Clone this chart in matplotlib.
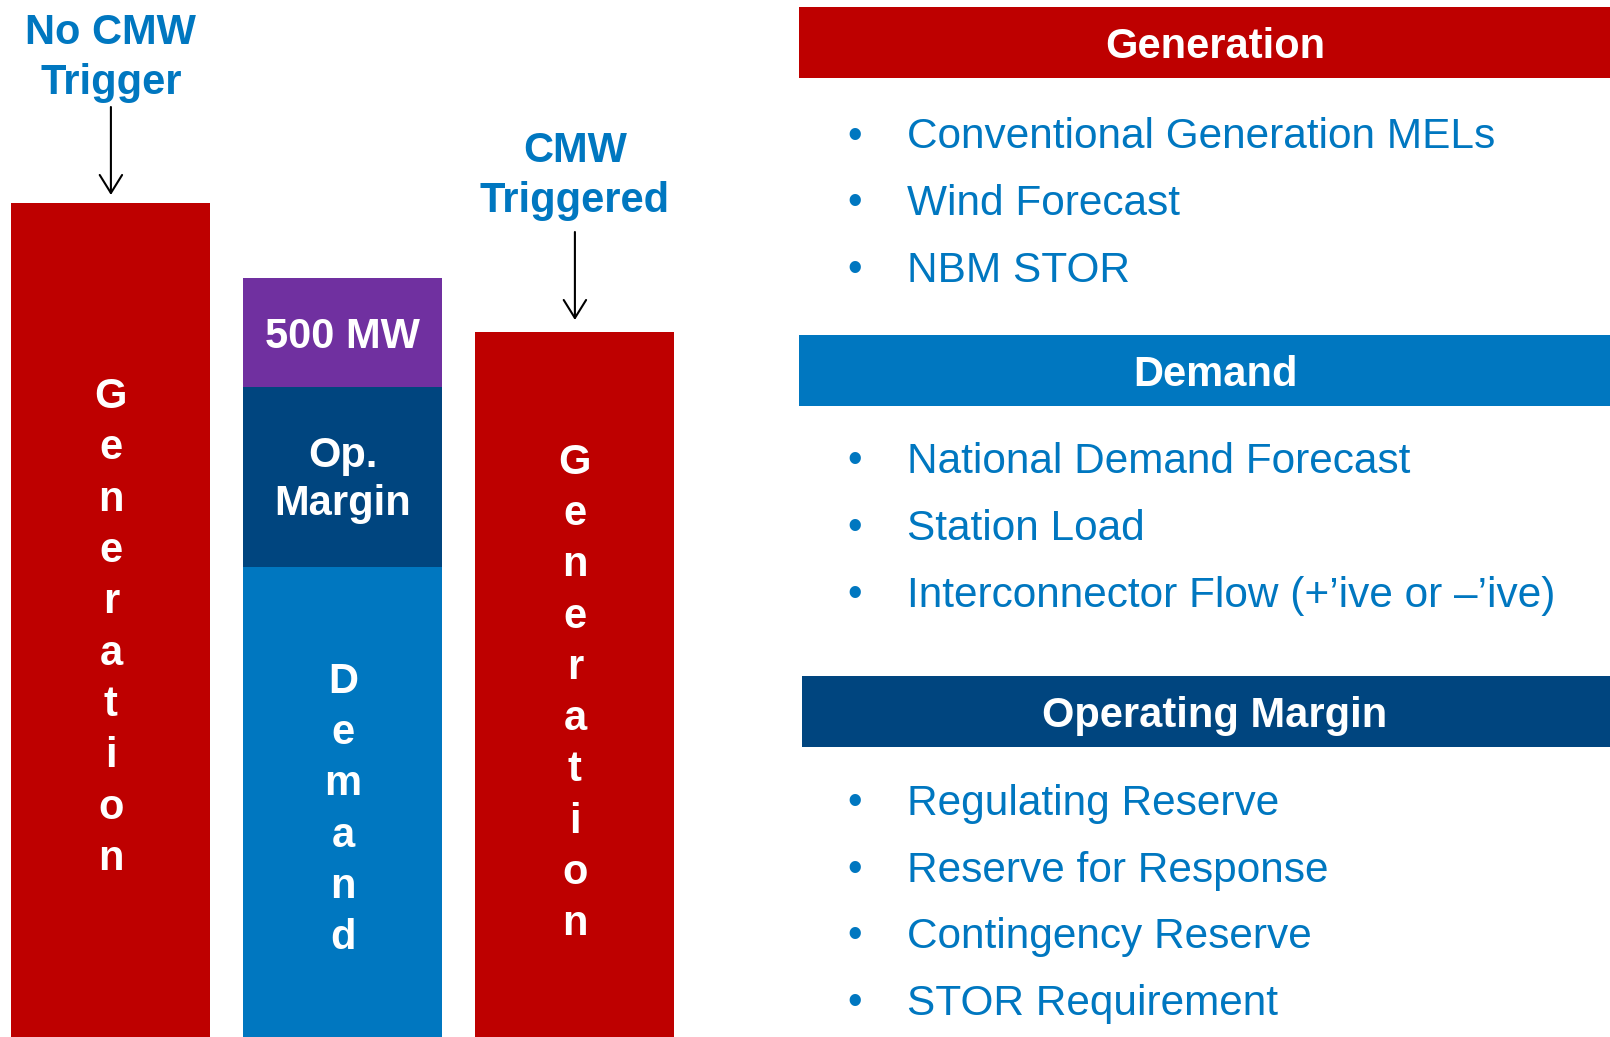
import matplotlib
matplotlib.use("Agg")
import matplotlib.pyplot as plt
from matplotlib.patches import Rectangle

plt.rcParams['font.family'] = ['Liberation Sans', 'DejaVu Sans']

# ---- data (arbitrary MW-like units) ----
categories = ["No CMW Trigger", "Requirement", "CMW Triggered"]
generation_no_trigger = 834
demand = 470
op_margin = 180
cmw_buffer = 109          # the "500 MW" block
generation_triggered = 705

top_labels = ["No CMW\nTrigger", "CMW\nTriggered"]
segment_labels = ["Generation", "Demand", "Op.\nMargin", "500 MW"]

headers = ["Generation", "Demand", "Operating Margin"]
generation_items = ["Conventional Generation MELs", "Wind Forecast", "NBM STOR"]
demand_items = ["National Demand Forecast", "Station Load",
                "Interconnector Flow (+\u2019ive or \u2013\u2019ive)"]
margin_items = ["Regulating Reserve", "Reserve for Response",
                "Contingency Reserve", "STOR Requirement"]

RED = '#BE0000'
BLUE = '#0077C0'
NAVY = '#00457F'
PURPLE = '#7030A0'

W, H = 1610, 1037
fig = plt.figure(figsize=(W / 100, H / 100), dpi=100)

# ---- bar axes ----
ax = fig.add_axes([0, 0, 1, 1])
spacing_px = 232.0
xmin = -110.9 / spacing_px
ax.set_xlim(xmin, xmin + W / spacing_px)
ax.set_ylim(0, H)
ax.axis('off')
bw = 0.858
xs = [0, 1, 2]

ax.bar(xs[0], generation_no_trigger, width=bw, color=RED)
ax.bar(xs[1], demand, width=bw, color=BLUE)
ax.bar(xs[1], op_margin, width=bw, bottom=demand, color=NAVY)
ax.bar(xs[1], cmw_buffer, width=bw, bottom=demand + op_margin, color=PURPLE)
ax.bar(xs[2], generation_triggered, width=bw, color=RED)

def vertical_word(x, lo, hi, word, step, shift):
    mid = (lo + hi) / 2 + shift
    n = len(word)
    for i, ch in enumerate(word):
        y = mid + (n - 1) / 2 * step - i * step
        ax.text(x, y, ch, ha='center', va='center', color='white',
                fontsize=30, fontweight='bold')

vertical_word(xs[0], 0, generation_no_trigger, segment_labels[0], 51.3, -8)
vertical_word(xs[2], 0, generation_triggered, segment_labels[0], 51.3, -9)
vertical_word(xs[1], 0, demand, segment_labels[1], 51.3, -8)
ax.text(xs[1], demand + op_margin / 2 - 3, segment_labels[2], ha='center',
        va='center', color='white', fontsize=30, fontweight='bold',
        linespacing=1.27)
ax.text(xs[1], demand + op_margin + cmw_buffer / 2 - 4, segment_labels[3],
        ha='center', va='center', color='white', fontsize=30,
        fontweight='bold')

# top labels and arrows
ax.text(xs[0], generation_no_trigger + 145, top_labels[0], ha='center',
        va='center', color=BLUE, fontsize=30, fontweight='bold',
        linespacing=1.3)
ax.text(xs[2], generation_triggered + 156, top_labels[1], ha='center',
        va='center', color=BLUE, fontsize=30, fontweight='bold',
        linespacing=1.3)
astyle = '->, head_length=0.5, head_width=0.31'
ax.annotate('', xy=(xs[0], generation_no_trigger + 8),
            xytext=(xs[0], generation_no_trigger + 96),
            arrowprops=dict(arrowstyle=astyle, color='black', lw=1.5,
                            mutation_scale=26, shrinkA=0, shrinkB=0))
ax.annotate('', xy=(xs[2], generation_triggered + 12),
            xytext=(xs[2], generation_triggered + 100),
            arrowprops=dict(arrowstyle=astyle, color='black', lw=1.5,
                            mutation_scale=26, shrinkA=0, shrinkB=0))

# ---- right panel (layout axes in pixel coords, y down) ----
lay = fig.add_axes([0, 0, 1, 1])
lay.set_xlim(0, W)
lay.set_ylim(H, 0)
lay.axis('off')
lay.patch.set_alpha(0)

header_boxes = [(799, 7, 78, RED), (799, 335, 406, BLUE), (802, 676, 747, NAVY)]
groups = [generation_items, demand_items, margin_items]
row_centers = [[133.5, 200.2, 267.0], [458.0, 524.7, 592.5],
               [800.0, 866.6, 933.4, 1000.0]]

for (x0, y0, y1, col), title, items, ys in zip(header_boxes, headers, groups,
                                                row_centers):
    lay.add_patch(Rectangle((x0, y0), W - x0, y1 - y0, color=col, lw=0))
    lay.text(1215, (y0 + y1) / 2 + 15, title, ha='center', va='baseline',
             color='white', fontsize=30, fontweight='bold')
    for label, yc in zip(items, ys):
        lay.text(855, yc + 14, '\u2022', ha='center', va='baseline',
                 color=BLUE, fontsize=30)
        lay.text(907, yc + 15, label, ha='left', va='baseline', color=BLUE,
                 fontsize=30.5)

fig.savefig('out.png', dpi=100)
